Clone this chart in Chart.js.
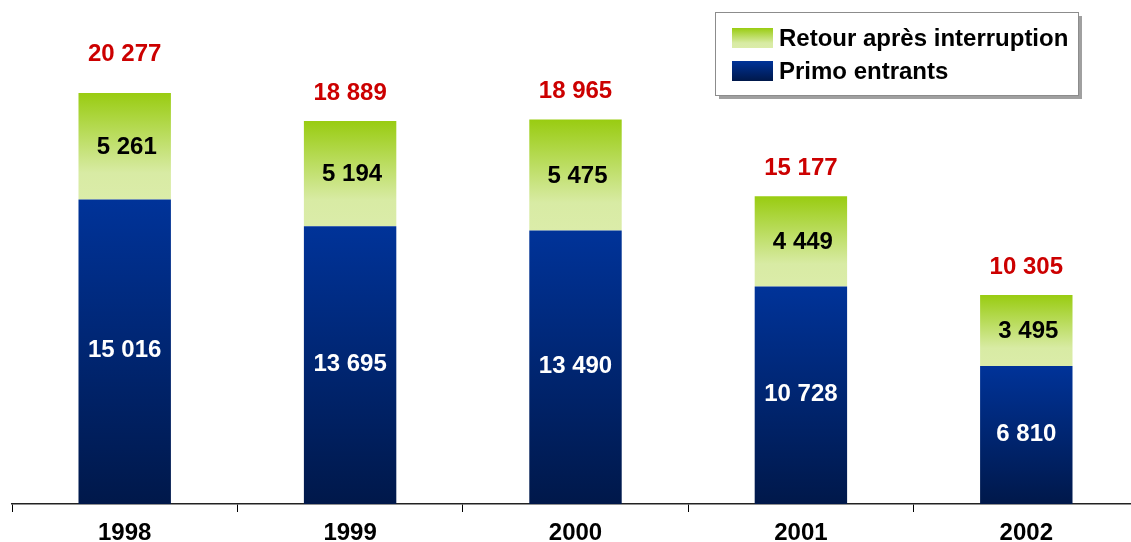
<!DOCTYPE html>
<html>
<head>
<meta charset="utf-8">
<script src="https://cdn.jsdelivr.net/npm/chart.js@4/dist/chart.umd.min.js"></script>
<style>
  html, body { margin: 0; padding: 0; background: #fff; overflow: hidden; }
  #wrap { width: 1145px; height: 542px; position: relative; }
</style>
</head>
<body>
<div id="wrap"><canvas id="chart"></canvas></div>
<script>
  const years = ['1998', '1999', '2000', '2001', '2002'];
  const primoEntrants = [15016, 13695, 13490, 10728, 6810];
  const retourInterruption = [5261, 5194, 5475, 4449, 3495];
  const totals = [20277, 18889, 18965, 15177, 10305];
  const seriesNames = ['Primo entrants', 'Retour après interruption'];

  const FONT = '"Liberation Sans", Arial, sans-serif';
  const fmt = v => String(v).replace(/\B(?=(\d{3})+(?!\d))/g, ' ');

  function blueFill(g) {
    g.addColorStop(0, '#003399');
    g.addColorStop(1, '#00184a');
    return g;
  }
  function greenFill(g) {
    g.addColorStop(0, '#99cc11');
    g.addColorStop(0.75, '#d8eba4');
    g.addColorStop(1, '#dbeca9');
    return g;
  }

  // gradient per bar segment, from its top to its bottom
  function segmentGradient(from, to, filler) {
    return (c) => {
      const chart = c.chart;
      if (!chart.chartArea || c.dataIndex === undefined) return '#003399';
      const y = chart.scales.y;
      const i = c.dataIndex;
      const top = y.getPixelForValue(to(i));
      const bot = y.getPixelForValue(from(i));
      return filler(chart.ctx.createLinearGradient(0, top, 0, bot));
    };
  }

  const valueLabels = {
    id: 'valueLabels',
    afterDatasetsDraw(chart) {
      const ctx = chart.ctx;
      ctx.save();
      ctx.textAlign = 'center';
      ctx.textBaseline = 'middle';
      ctx.font = 'bold 24px ' + FONT;
      const blue = chart.getDatasetMeta(0).data;
      const green = chart.getDatasetMeta(1).data;
      blue.forEach((bar, i) => {
        ctx.fillStyle = '#ffffff';
        ctx.fillText(fmt(primoEntrants[i]), bar.x, (bar.y + bar.base) / 2 - 1);
        const g = green[i];
        ctx.fillStyle = '#000000';
        ctx.fillText(fmt(retourInterruption[i]), g.x + 2, (g.y + g.base) / 2 + 1);
        ctx.fillStyle = '#cc0000';
        const lift = i === 0 ? 39 : 28;
        ctx.fillText(fmt(totals[i]), g.x, g.y - lift);
      });
      ctx.restore();
    }
  };

  const boxLegend = {
    id: 'boxLegend',
    afterDraw(chart) {
      const ctx = chart.ctx;
      const x = 715, y = 12, w = 363, h = 83;
      ctx.save();
      ctx.fillStyle = '#a0a0a0';
      ctx.fillRect(x + 4, y + 4, w, h);
      ctx.fillStyle = '#ffffff';
      ctx.fillRect(x, y, w, h);
      ctx.strokeStyle = '#8c8c8c';
      ctx.lineWidth = 1;
      ctx.strokeRect(x + 0.5, y + 0.5, w, h);
      const rows = [
        { label: seriesNames[1], top: 28, fill: greenFill },
        { label: seriesNames[0], top: 61, fill: blueFill }
      ];
      ctx.font = 'bold 24px ' + FONT;
      ctx.textBaseline = 'middle';
      ctx.textAlign = 'left';
      rows.forEach(r => {
        ctx.fillStyle = r.fill(ctx.createLinearGradient(0, r.top, 0, r.top + 20));
        ctx.fillRect(732, r.top, 41, 20);
        ctx.fillStyle = '#000000';
        ctx.fillText(r.label, 779, r.top + 11);
      });
      ctx.restore();
    }
  };

  new Chart(document.getElementById('chart'), {
    type: 'bar',
    data: {
      labels: years,
      datasets: [
        {
          label: seriesNames[0],
          data: primoEntrants,
          backgroundColor: segmentGradient(() => 0, i => primoEntrants[i], blueFill),
          borderWidth: 0
        },
        {
          label: seriesNames[1],
          data: retourInterruption,
          backgroundColor: segmentGradient(i => primoEntrants[i], i => primoEntrants[i] + retourInterruption[i], greenFill),
          borderWidth: 0
        }
      ]
    },
    options: {
      responsive: true, maintainAspectRatio: false,
      animation: false,
      layout: { padding: { left: 12, right: 6, top: 0, bottom: 0 } },
      datasets: { bar: { categoryPercentage: 1, barPercentage: 0.41 } },
      plugins: { legend: { display: false }, tooltip: { enabled: false } },
      scales: {
        x: {
          stacked: true,
          grid: { display: true, drawOnChartArea: false, offset: true, tickLength: 8, color: '#000', lineWidth: 1 },
          border: { display: true, color: '#222', width: 1.5 },
          ticks: { color: '#000', padding: 7, font: { family: FONT, size: 24, weight: 'bold' } },
          afterFit(axis) { axis.height = 38; }
        },
        y: { stacked: true, display: false, min: 0, max: 24860 }
      }
    },
    plugins: [valueLabels, boxLegend]
  });
</script>
</body>
</html>
